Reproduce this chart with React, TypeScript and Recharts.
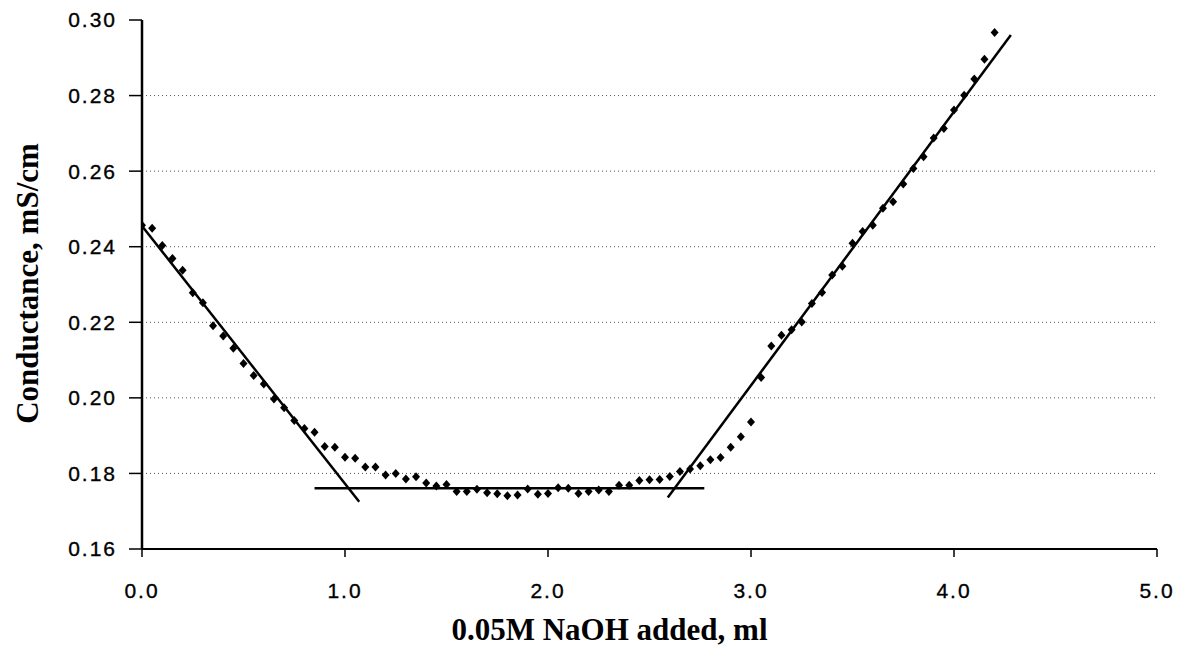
import React from "react";
import {
  ComposedChart,
  Scatter,
  Line,
  XAxis,
  YAxis,
  ReferenceLine,
  Label,
} from "recharts";

// measured points: NaOH volume (ml) and conductance (mS/cm)
const volume = [
  0.0, 0.05, 0.1, 0.15, 0.2, 0.25, 0.3, 0.35, 0.4, 0.45,
  0.5, 0.55, 0.6, 0.65, 0.7, 0.75, 0.8, 0.85, 0.9, 0.95,
  1.0, 1.05, 1.1, 1.15, 1.2, 1.25, 1.3, 1.35, 1.4, 1.45,
  1.5, 1.55, 1.6, 1.65, 1.7, 1.75, 1.8, 1.85, 1.9, 1.95,
  2.0, 2.05, 2.1, 2.15, 2.2, 2.25, 2.3, 2.35, 2.4, 2.45,
  2.5, 2.55, 2.6, 2.65, 2.7, 2.75, 2.8, 2.85, 2.9, 2.95,
  3.0, 3.05, 3.1, 3.15, 3.2, 3.25, 3.3, 3.35, 3.4, 3.45,
  3.5, 3.55, 3.6, 3.65, 3.7, 3.75, 3.8, 3.85, 3.9, 3.95,
  4.0, 4.05, 4.1, 4.15, 4.2,
];
const conductance = [
  0.2457, 0.2449, 0.2403, 0.2369, 0.2338, 0.2278, 0.2252, 0.2191, 0.2164, 0.2131,
  0.2091, 0.2059, 0.2037, 0.1997, 0.1974, 0.194, 0.1919, 0.1909, 0.1871, 0.1869,
  0.1843, 0.184, 0.1817, 0.1817, 0.1796, 0.18, 0.1785, 0.1791, 0.1775, 0.1767,
  0.1771, 0.1752, 0.1752, 0.1758, 0.1749, 0.1746, 0.1741, 0.1743, 0.1759, 0.1745,
  0.1747, 0.1762, 0.1761, 0.1747, 0.1752, 0.1756, 0.1752, 0.1769, 0.1769, 0.1781,
  0.1783, 0.1784, 0.1792, 0.1805, 0.1812, 0.182, 0.1836, 0.1842, 0.1869, 0.1897,
  0.1936, 0.2054, 0.2137, 0.2166, 0.218, 0.2201, 0.225, 0.2279, 0.2325, 0.2348,
  0.2409, 0.244, 0.2457, 0.2502, 0.2519, 0.2566, 0.2607, 0.2638, 0.2688, 0.2713,
  0.2762, 0.2801, 0.2844, 0.2896, 0.2967,
];

// hand-drawn fit lines (end points)
const leftFitX = [0.0, 1.07];
const leftFitY = [0.2455, 0.1725];
const flatFitX = [0.85, 2.77];
const flatFitY = [0.1761, 0.1761];
const rightFitX = [2.59, 4.28];
const rightFitY = [0.1736, 0.296];

const xTicks = [0, 1, 2, 3, 4, 5];
const yTicks = [0.16, 0.18, 0.2, 0.22, 0.24, 0.26, 0.28, 0.3];
const gridValues = [0.18, 0.2, 0.22, 0.24, 0.26, 0.28];

const points = volume.map((x, i) => ({ x, y: conductance[i] }));
const toLine = (xs: number[], ys: number[]) => xs.map((x, i) => ({ x, y: ys[i] }));

const tickFont = {
  fontFamily: "'Liberation Sans', Arial, sans-serif",
  fontSize: 21,
  fill: "#000",
  stroke: "#000",
  strokeWidth: 0.35,
  letterSpacing: 2,
};
const titleFont = "'Liberation Serif', 'Times New Roman', serif";

function Diamond(props: any) {
  const { cx, cy } = props;
  if (cx == null || cy == null) return null;
  return (
    <path
      d={`M${cx},${cy - 4.5}L${cx + 4},${cy}L${cx},${cy + 4.5}L${cx - 4},${cy}Z`}
      fill="#000"
    />
  );
}

export default function App() {
  return (
    <div style={{ position: "absolute", left: 0, top: 0, background: "#fff" }}>
      <ComposedChart
        width={1182}
        height={647}
        margin={{ top: 20, right: 25, bottom: 0, left: 0 }}
      >
        {gridValues.map((v) => (
          <ReferenceLine
            key={v}
            y={v}
            stroke="#555"
            strokeWidth={1}
            strokeDasharray="1 3"
          />
        ))}
        <XAxis
          type="number"
          dataKey="x"
          domain={[0, 5]}
          ticks={xTicks}
          allowDataOverflow
          height={98}
          tickSize={8}
          tickMargin={26}
          tick={tickFont}
          tickFormatter={(v) => Number(v).toFixed(1)}
          axisLine={{ stroke: "#000", strokeWidth: 2 }}
          tickLine={{ stroke: "#000", strokeWidth: 1.5 }}
        >
          <Label
            content={(p: any) => {
              const vb = p.viewBox;
              return (
                <text
                  x={vb.x + vb.width / 2 - 40}
                  y={vb.y + 91}
                  textAnchor="middle"
                  fontFamily={titleFont}
                  fontWeight="bold"
                  fontSize={31}
                  fill="#000"
                >
                  0.05M NaOH added, ml
                </text>
              );
            }}
          />
        </XAxis>
        <YAxis
          type="number"
          domain={[0.16, 0.3]}
          ticks={yTicks}
          interval={0}
          allowDataOverflow
          width={142}
          tickSize={13}
          tickMargin={12}
          tick={tickFont}
          tickFormatter={(v) => Number(v).toFixed(2)}
          axisLine={{ stroke: "#000", strokeWidth: 2.5 }}
          tickLine={{ stroke: "#000", strokeWidth: 1.5 }}
        >
          <Label
            content={(p: any) => {
              const vb = p.viewBox;
              const cx = vb.x + 38;
              const cy = vb.y + vb.height / 2 - 1;
              return (
                <text
                  x={cx}
                  y={cy}
                  transform={`rotate(-90 ${cx} ${cy})`}
                  textAnchor="middle"
                  fontFamily={titleFont}
                  fontWeight="bold"
                  fontSize={31}
                  fill="#000"
                >
                  Conductance, mS/cm
                </text>
              );
            }}
          />
        </YAxis>
        <Line
          data={toLine(leftFitX, leftFitY)}
          dataKey="y"
          type="linear"
          stroke="#000"
          strokeWidth={2.5}
          dot={false}
          activeDot={false}
          isAnimationActive={false}
        />
        <Line
          data={toLine(flatFitX, flatFitY)}
          dataKey="y"
          type="linear"
          stroke="#000"
          strokeWidth={2.5}
          dot={false}
          activeDot={false}
          isAnimationActive={false}
        />
        <Line
          data={toLine(rightFitX, rightFitY)}
          dataKey="y"
          type="linear"
          stroke="#000"
          strokeWidth={2.5}
          dot={false}
          activeDot={false}
          isAnimationActive={false}
        />
        <Scatter
          data={points}
          dataKey="y"
          shape={Diamond}
          isAnimationActive={false}
        />
      </ComposedChart>
    </div>
  );
}
